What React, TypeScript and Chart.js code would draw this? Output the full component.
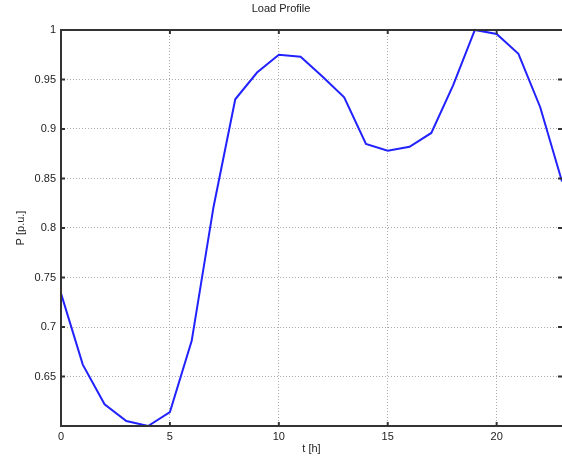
import React, { useEffect, useRef } from "react";
import { Chart, registerables } from "chart.js";

Chart.register(...registerables);

const hours = [0, 1, 2, 3, 4, 5, 6, 7, 8, 9, 10, 11, 12, 13, 14, 15, 16, 17, 18, 19, 20, 21, 22, 23];
const loadPU = [
  0.734, 0.662, 0.622, 0.605, 0.6, 0.614, 0.686, 0.821, 0.93, 0.957, 0.975, 0.973,
  0.953, 0.932, 0.885, 0.878, 0.882, 0.896, 0.944, 1.0, 0.996, 0.976, 0.922, 0.847,
];
const xTicks = [0, 5, 10, 15, 20];
const yTicks = [0.65, 0.7, 0.75, 0.8, 0.85, 0.9, 0.95, 1];

const FONT = "'Liberation Sans', Arial, sans-serif";

const framePlugin = {
  id: "frame",
  afterDraw(chart: any) {
    const { ctx, chartArea } = chart;
    const { left, right, top, bottom } = chartArea;
    const xs = chart.scales.x;
    const ys = chart.scales.y;
    ctx.save();
    ctx.strokeStyle = "#333333";
    ctx.lineWidth = 2;
    ctx.beginPath();
    ctx.moveTo(right + 2, top);
    ctx.lineTo(left, top);
    ctx.lineTo(left, bottom);
    ctx.lineTo(right + 2, bottom);
    ctx.stroke();
    ctx.lineWidth = 2;
    const tl = 4;
    ctx.beginPath();
    xTicks.forEach((t) => {
      const px = xs.getPixelForValue(t);
      ctx.moveTo(px, bottom);
      ctx.lineTo(px, bottom - tl);
      ctx.moveTo(px, top);
      ctx.lineTo(px, top + tl);
    });
    yTicks.forEach((t) => {
      const py = ys.getPixelForValue(t);
      ctx.moveTo(left, py);
      ctx.lineTo(left + tl, py);
      ctx.moveTo(right, py);
      ctx.lineTo(right - tl, py);
    });
    ctx.stroke();
    ctx.restore();
  },
};

export default function App() {
  const ref = useRef<HTMLCanvasElement | null>(null);
  useEffect(() => {
    if (!ref.current) return;
    const chart = new Chart(ref.current, {
      type: "line",
      data: {
        datasets: [
          {
            data: hours.map((h, i) => ({ x: h, y: loadPU[i] })),
            borderColor: "#2222ff",
            borderWidth: 2,
            pointRadius: 0,
            tension: 0,
            fill: false,
            clip: 4 as any,
          },
        ],
      },
      options: {
        animation: false,
        responsive: false,
        layout: { padding: { left: 0, right: 0, top: 0, bottom: 0 } },
        plugins: {
          legend: { display: false },
          tooltip: { enabled: false },
          title: {
            display: true,
            text: "Load Profile",
            color: "#222222",
            font: { family: FONT, size: 11, weight: "normal" as any, lineHeight: 1.2 },
            padding: { top: 2, bottom: 14.8 },
          },
        },
        scales: {
          x: {
            type: "linear",
            min: 0,
            max: 23,
            afterFit: (s: any) => {
              s.height = 30;
            },
            ticks: {
              stepSize: 5,
              includeBounds: false,
              maxRotation: 0,
              padding: 4,
              color: "#222222",
              font: { family: FONT, size: 11 },
              callback: (v: any) => String(v),
            },
            grid: {
              drawTicks: false,
              color: "#aaaaaa",
              lineWidth: 1,
              tickBorderDash: [1, 2],
            } as any,
            border: { display: false, dash: [1, 2] },
            title: {
              display: true,
              text: "t [h]",
              color: "#222222",
              font: { family: FONT, size: 11, lineHeight: 1.2 },
              padding: { top: 0, bottom: 0 },
            },
          },
          y: {
            type: "linear",
            min: 0.6,
            max: 1,
            afterFit: (s: any) => {
              s.width = 61;
            },
            ticks: {
              stepSize: 0.05,
              includeBounds: false,
              padding: 5,
              color: "#222222",
              font: { family: FONT, size: 11 },
              callback: (v: any) => {
                const n = Number(Number(v).toFixed(2));
                return n <= 0.6 ? "" : String(n);
              },
            },
            grid: {
              drawTicks: false,
              color: "#aaaaaa",
              lineWidth: 1,
            },
            border: { display: false, dash: [1, 2] },
            title: {
              display: true,
              text: "P [p.u.]",
              color: "#222222",
              font: { family: FONT, size: 11, lineHeight: 1.2 },
              padding: { top: 14, bottom: 0 },
            },
          },
        },
      },
      plugins: [framePlugin],
    });
    return () => chart.destroy();
  }, []);
  return (
    <div style={{ position: "absolute", left: 0, top: 0, width: 562, height: 456, background: "#fff" }}>
      <canvas ref={ref} width={562} height={456} />
    </div>
  );
}
